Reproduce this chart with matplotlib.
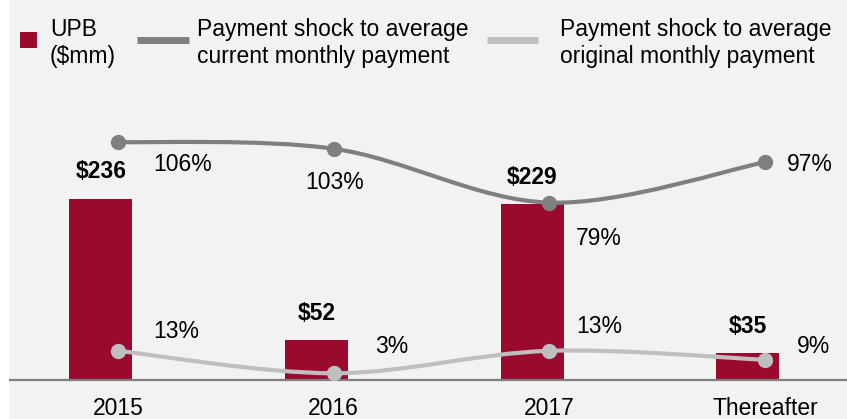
import numpy as np
import matplotlib.pyplot as plt
from matplotlib.path import Path
from matplotlib.patches import PathPatch, Rectangle
from matplotlib.lines import Line2D

plt.rcParams['font.family'] = ['Liberation Sans', 'DejaVu Sans']
plt.rcParams['text.parse_math'] = False

# data
categories = ['2015', '2016', '2017', 'Thereafter']
upb = [236, 52, 229, 35]
shock_current = [106, 103, 79, 97]
shock_original = [13, 3, 13, 9]

series_names = ['UPB\n($mm)',
                'Payment shock to average\ncurrent monthly payment',
                'Payment shock to average\noriginal monthly payment']

# label offsets in pixels (dx, dy) relative to the point
cur_offsets = [(35, -23), (-28, -34), (27, -36), (22, -2)]
orig_offsets = [(35, 19), (42, 27), (27, 24), (32, 13)]

BG = '#f2f2f2'
RED = '#990a2e'
DARK = '#7f7f7f'
LIGHT = '#bfbfbf'
FS = 16.5
W, H = 847, 419


def smooth_path(xs, ys):
    # catmull-rom style bezier through the points (like excel smoothed lines)
    pts = np.column_stack([xs, ys]).astype(float)
    ext = np.vstack([pts[0], pts, pts[-1]])
    verts = [pts[0]]
    codes = [Path.MOVETO]
    for i in range(len(pts) - 1):
        p0, p1, p2, p3 = ext[i], ext[i + 1], ext[i + 2], ext[i + 3]
        c1 = p1 + (p2 - p0) / 6.0
        c2 = p2 - (p3 - p1) / 6.0
        verts += [c1, c2, p2]
        codes += [Path.CURVE4] * 3
    return Path(verts, codes)


fig = plt.figure(figsize=(W / 100, H / 100), dpi=100, facecolor=BG)
fig.add_artist(Rectangle((0, 0), 9 / W, 1, transform=fig.transFigure,
                         facecolor='white', edgecolor='none'))

ax = fig.add_axes([10 / W, (H - 380) / H, 1 - 10 / W, 280 / H])
ax.set_facecolor(BG)
x = np.arange(len(categories))

ax.bar(x - 0.079, upb, width=0.292, color=RED, zorder=2)
ax.set_xlim(-0.5, 3.38)
ax.set_ylim(0, 364.6)
for s in ['top', 'right', 'left']:
    ax.spines[s].set_visible(False)
ax.spines['bottom'].set_color(DARK)
ax.spines['bottom'].set_linewidth(1.6)
ax.set_yticks([])
ax.set_xticks(x)
ax.set_xticklabels(categories, fontsize=FS)
ax.tick_params(axis='x', length=0, pad=12)

for xi, v in zip(x, upb):
    ax.annotate(f'${v}', (xi - 0.079, v), xytext=(0, 27), textcoords='offset pixels',
                ha='center', va='center', fontsize=FS, fontweight='bold')

ax2 = ax.twinx()
ax2.set_ylim(0, 124.7)
ax2.set_xlim(-0.5, 3.38)
ax2.axis('off')

for vals, col, offs in [(shock_original, LIGHT, orig_offsets),
                        (shock_current, DARK, cur_offsets)]:
    ax2.add_patch(PathPatch(smooth_path(x, vals), facecolor='none', edgecolor=col,
                            lw=3, capstyle='round', zorder=3))
    ax2.plot(x, vals, 'o', ms=10, color=col, zorder=4)
    for xi, v, (dx, dy) in zip(x, vals, offs):
        ax2.annotate(f'{v}%', (xi, v), xytext=(dx, dy), textcoords='offset pixels',
                     ha='left', va='center', fontsize=FS)


# legend (positions in pixels from the top-left corner)
def fx(px):
    return px / W


def fy(py):
    return 1 - py / H


fig.add_artist(Rectangle((fx(20), fy(48)), 17 / W, 16 / H, transform=fig.transFigure,
                         facecolor=RED, edgecolor='none'))
fig.add_artist(Line2D([fx(137), fx(189)], [fy(40), fy(40)], transform=fig.transFigure,
                      color=DARK, lw=5, solid_capstyle='butt'))
fig.add_artist(Line2D([fx(487), fx(538)], [fy(40), fy(40)], transform=fig.transFigure,
                      color=LIGHT, lw=5, solid_capstyle='butt'))
for px, name in zip([50, 197, 560], series_names):
    fig.text(fx(px), fy(43), name, ha='left', va='center', fontsize=FS,
             linespacing=1.22)

fig.savefig('out.png', dpi=100, facecolor=BG)
